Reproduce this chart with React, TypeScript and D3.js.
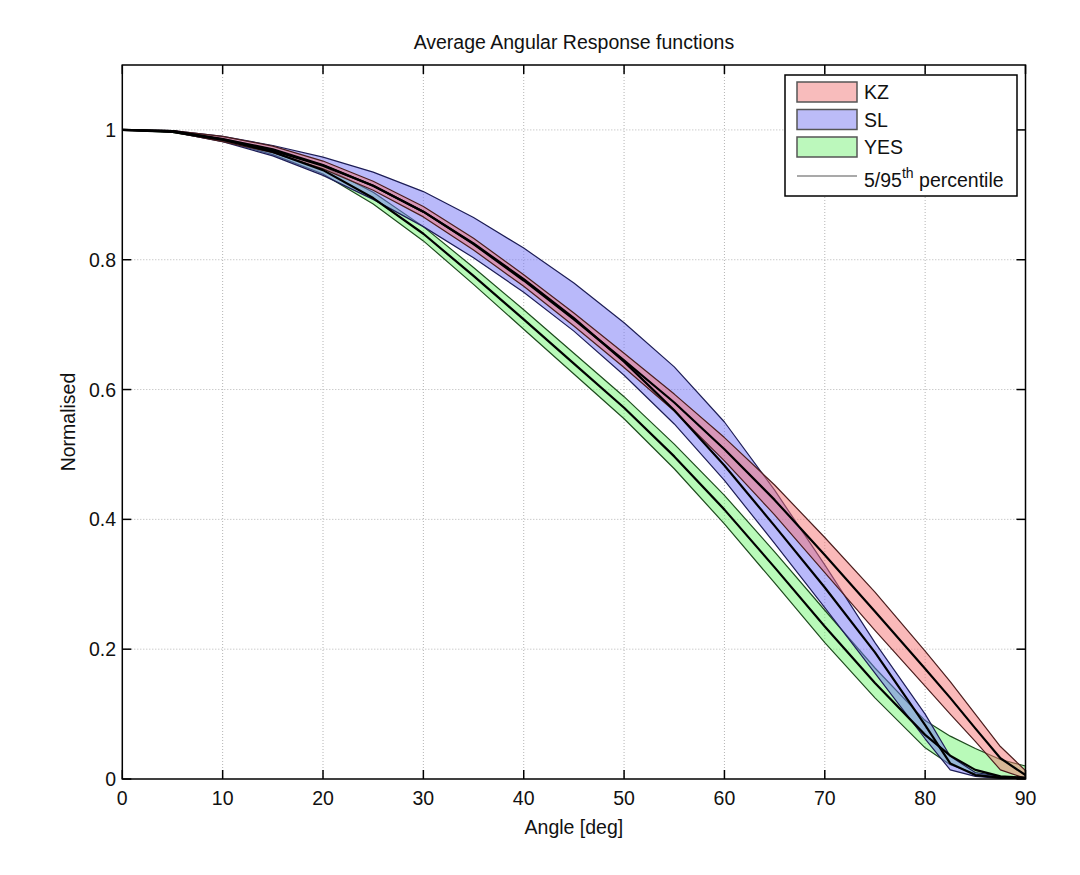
import React from 'react';
import * as d3 from 'd3';

// angles where the response was sampled
const angles = [0, 5, 10, 15, 20, 25, 30, 35, 40, 45, 50, 55, 60, 65, 70, 75, 80, 82.5, 85, 87.5, 90];

const kzUpper = [1, 0.999, 0.99, 0.975, 0.952, 0.921, 0.882, 0.833, 0.777, 0.718, 0.656, 0.593, 0.526, 0.453, 0.372, 0.288, 0.197, 0.15, 0.1, 0.05, 0.013];
const kzMean = [1, 0.998, 0.986, 0.97, 0.946, 0.914, 0.874, 0.824, 0.768, 0.708, 0.645, 0.58, 0.508, 0.43, 0.345, 0.258, 0.17, 0.125, 0.078, 0.032, 0.006];
const kzLower = [1, 0.997, 0.982, 0.965, 0.94, 0.907, 0.866, 0.815, 0.759, 0.698, 0.634, 0.567, 0.49, 0.407, 0.318, 0.229, 0.143, 0.1, 0.058, 0.014, 0.001];

const slUpper = [1, 0.999, 0.99, 0.976, 0.958, 0.935, 0.905, 0.865, 0.818, 0.764, 0.703, 0.635, 0.55, 0.445, 0.33, 0.21, 0.1, 0.035, 0.01, 0.004, 0.002];
const slMean = [1, 0.998, 0.985, 0.968, 0.945, 0.914, 0.874, 0.825, 0.77, 0.71, 0.643, 0.568, 0.483, 0.39, 0.295, 0.195, 0.083, 0.024, 0.006, 0.002, 0.001];
const slLower = [1, 0.997, 0.982, 0.96, 0.93, 0.893, 0.851, 0.803, 0.75, 0.69, 0.622, 0.547, 0.46, 0.363, 0.264, 0.163, 0.062, 0.014, 0.004, 0.001, 0];

const yesUpper = [1, 0.998, 0.987, 0.97, 0.944, 0.904, 0.851, 0.788, 0.723, 0.656, 0.589, 0.516, 0.437, 0.35, 0.26, 0.171, 0.09, 0.066, 0.047, 0.03, 0.02];
const yesMean = [1, 0.997, 0.985, 0.966, 0.938, 0.895, 0.84, 0.775, 0.708, 0.64, 0.572, 0.497, 0.415, 0.326, 0.235, 0.148, 0.068, 0.036, 0.014, 0.004, 0.002];
const yesLower = [1, 0.996, 0.983, 0.962, 0.932, 0.886, 0.829, 0.762, 0.693, 0.624, 0.555, 0.478, 0.393, 0.302, 0.21, 0.125, 0.048, 0.022, 0.008, 0.002, 0];

const xTicks = [0, 10, 20, 30, 40, 50, 60, 70, 80, 90];
const yTicks = [0, 0.2, 0.4, 0.6, 0.8, 1];
const legendLabels = ['KZ', 'SL', 'YES'];

const font = '"Liberation Sans", Arial, Helvetica, sans-serif';

const left = 122.3, right = 1025.5, top = 65, bottom = 779;

const App = () => {
  const x = d3.scaleLinear().domain([0, 90]).range([left, right]);
  const y = d3.scaleLinear().domain([0, 1.1]).range([bottom, top]);

  const series = [
    { name: 'YES', lo: yesLower, mid: yesMean, hi: yesUpper, fill: '#74f574', edge: '#1d4a1d' },
    { name: 'SL', lo: slLower, mid: slMean, hi: slUpper, fill: '#7474f5', edge: '#1d1d55' },
    { name: 'KZ', lo: kzLower, mid: kzMean, hi: kzUpper, fill: '#f57474', edge: '#4a1d1d' },
  ];

  const area = (lo: number[], hi: number[]) =>
    d3.area<number>()
      .x((d, i) => x(angles[i]))
      .y0((d, i) => y(lo[i]))
      .y1((d, i) => y(hi[i]))(angles) as string;

  const line = (vals: number[]) =>
    d3.line<number>()
      .x((d, i) => x(angles[i]))
      .y(d => y(d))(vals) as string;

  const swatch: Record<string, string> = { KZ: '#f8bcbc', SL: '#bcbcf8', YES: '#bcf8bc' };

  return (
    <svg width={1080} height={875} style={{ position: 'absolute', left: 0, top: 0, background: '#fff' }}
      fontFamily={font}>
      <defs>
        <clipPath id="plot">
          <rect x={left} y={top} width={right - left} height={bottom - top} />
        </clipPath>
      </defs>

      {/* grid */}
      {xTicks.slice(1, -1).map(t => (
        <line key={'gx' + t} x1={x(t)} x2={x(t)} y1={top} y2={bottom}
          stroke="#b4b4b4" strokeWidth={1} strokeDasharray="1,2" />
      ))}
      {yTicks.slice(1).map(t => (
        <line key={'gy' + t} x1={left} x2={right} y1={y(t)} y2={y(t)}
          stroke="#b4b4b4" strokeWidth={1} strokeDasharray="1,2" />
      ))}

      <g clipPath="url(#plot)">
        {series.map(s => (
          <path key={'a' + s.name} d={area(s.lo, s.hi)} fill={s.fill} fillOpacity={0.5}
            stroke={s.edge} strokeWidth={1.2} strokeLinejoin="round" />
        ))}
        {series.map(s => (
          <path key={'m' + s.name} d={line(s.mid)} fill="none" stroke="#000" strokeWidth={2.2}
            strokeLinejoin="round" />
        ))}
      </g>

      {/* frame and ticks */}
      <rect x={left} y={top} width={right - left} height={bottom - top} fill="none" stroke="#000" strokeWidth={1.5} />
      {xTicks.map(t => (
        <g key={'tx' + t}>
          <line x1={x(t)} x2={x(t)} y1={bottom} y2={bottom - 9} stroke="#000" strokeWidth={1.5} />
          <line x1={x(t)} x2={x(t)} y1={top} y2={top + 9} stroke="#000" strokeWidth={1.5} />
          <text x={x(t)} y={805} textAnchor="middle" fontSize={19.5} fill="#111">{t}</text>
        </g>
      ))}
      {yTicks.map(t => (
        <g key={'ty' + t}>
          <line x1={left} x2={left + 9} y1={y(t)} y2={y(t)} stroke="#000" strokeWidth={1.5} />
          <line x1={right} x2={right - 9} y1={y(t)} y2={y(t)} stroke="#000" strokeWidth={1.5} />
          <text x={116} y={y(t) + 7} textAnchor="end" fontSize={19.5} fill="#111">{String(t)}</text>
        </g>
      ))}

      {/* labels */}
      <text x={(left + right) / 2} y={49} textAnchor="middle" fontSize={19.5} fill="#111">
        Average Angular Response functions
      </text>
      <text x={(left + right) / 2} y={834} textAnchor="middle" fontSize={19.5} fill="#111">Angle [deg]</text>
      <text transform={`translate(75, ${(top + bottom) / 2}) rotate(-90)`} textAnchor="middle" fontSize={19.5} fill="#111">
        Normalised
      </text>

      {/* legend */}
      <rect x={785} y={75} width={232} height={121} fill="#fff" stroke="#000" strokeWidth={1.5} />
      {legendLabels.map((name, i) => (
        <g key={'lg' + name}>
          <rect x={797} y={82 + i * 27.5} width={60} height={20} fill={swatch[name]} stroke="#555" strokeWidth={1.5} />
          <text x={864} y={99 + i * 27.5} fontSize={19.5} fill="#111">{name}</text>
        </g>
      ))}
      <line x1={797} x2={857} y1={176} y2={176} stroke="#555" strokeWidth={1.2} />
      <text x={864} y={186.5} fontSize={19.5} fill="#111">
        5/95<tspan fontSize={14} dy={-9}>th</tspan><tspan dy={9}> percentile</tspan>
      </text>
    </svg>
  );
};

export default App;
